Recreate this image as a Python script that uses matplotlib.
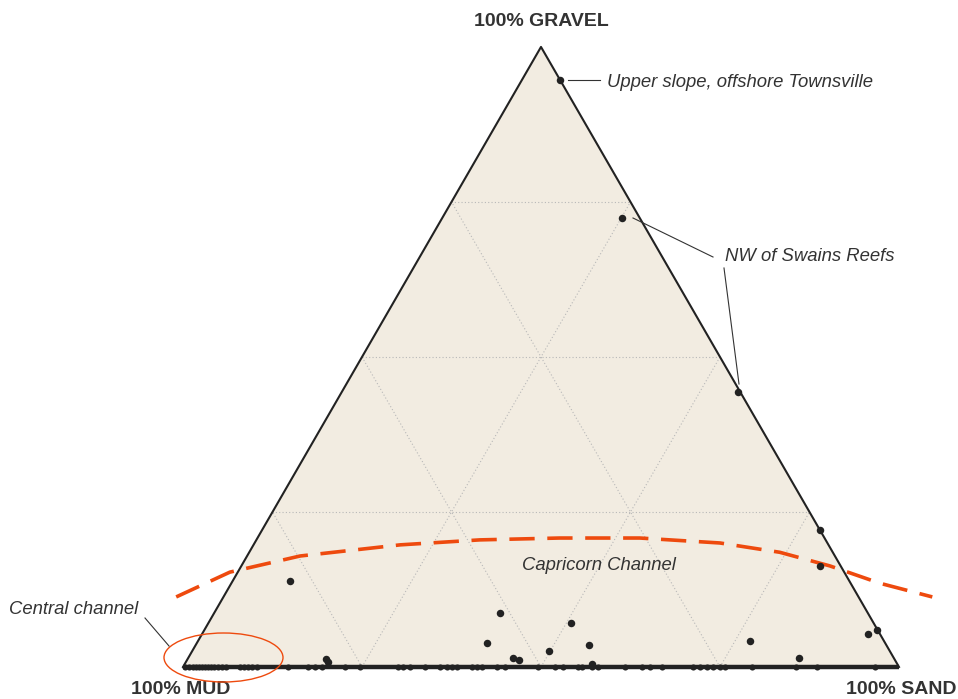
import numpy as np
import matplotlib.pyplot as plt
from matplotlib.patches import Polygon, Ellipse

# Samples: percent sand, percent gravel (mud = rest)
sand_pts = [5.3, 25.1, 55.3, 77.9, 80.8, 8.0, 39.9, 50.6, 40.5, 55.0, 49.8,
            45.4, 46.4, 19.3, 19.8, 56.9, 77.1, 93.9, 93.0, 85.3]
gravel_pts = [94.7, 72.4, 44.4, 22.1, 16.3, 13.9, 8.7, 7.1, 3.9, 3.5, 2.6,
              1.5, 1.1, 1.3, 0.8, 0.5, 4.2, 6.0, 5.3, 1.5]

# Samples with no gravel (sand %)
sand_base = [0.3, 0.8, 1.4, 1.8, 2.2, 2.7, 3.1, 3.5, 3.9, 4.3, 4.9, 5.4, 6.0,
             8.0, 8.5, 9.1, 9.6, 10.3, 14.7, 17.5, 18.4, 19.4, 22.6, 24.7,
             30.0, 30.7, 31.7, 33.8, 35.9, 36.9, 37.6, 38.3, 40.4, 41.1, 41.8,
             43.9, 45.0, 49.6, 52.0, 53.1, 55.2, 55.7, 57.1, 58.0, 61.7, 64.1,
             65.2, 66.9, 71.2, 72.2, 73.2, 74.0, 75.0, 75.7, 79.5, 85.6, 88.5,
             96.6]

# Capricorn Channel boundary (sand %, gravel %)
curve_sand = [-6.6, -1.1, 7.4, 20.5, 31.2, 42.2, 53.4, 65.0, 74.1, 82.2, 90.6, 99.0]
curve_gravel = [11.3, 15.3, 17.9, 19.7, 20.5, 20.8, 20.8, 20.0, 18.5, 16.3, 13.5, 11.3]

grid_levels = [25, 50, 75]

H = np.sqrt(3) / 2


def tern(s, g):
    s = np.asarray(s) / 100.0
    g = np.asarray(g) / 100.0
    return s + g / 2, g * H


fig = plt.figure(figsize=(9.58, 6.99), dpi=100)
ax = fig.add_axes([0, 0, 1, 1])
ax.set_xlim(-183 / 716, 775 / 716)
ax.set_ylim(-32 / 716, 667 / 716)
ax.axis('off')

# triangle
tri = Polygon([[0, 0], [1, 0], [0.5, H]], closed=True, facecolor='#F2ECE1',
              edgecolor='none', zorder=0)
ax.add_patch(tri)

# grid lines (dotted)
gc = '#b8b8b8'
for lv in grid_levels:
    x, y = tern([0, 100 - lv], [lv, lv])
    ax.plot(x, y, ls=(0, (1, 2)), color=gc, lw=0.8, zorder=1)
    x, y = tern([lv, lv], [0, 100 - lv])
    ax.plot(x, y, ls=(0, (1, 2)), color=gc, lw=0.8, zorder=1)
    x, y = tern([100 - lv, 0], [0, 100 - lv])
    ax.plot(x, y, ls=(0, (1, 2)), color=gc, lw=0.8, zorder=1)

ec = '#222222'
ax.plot([0, 0.5, 1], [0, H, 0], color=ec, lw=1.5, zorder=2)
ax.plot([0, 1], [0, 0], color=ec, lw=3.2, solid_capstyle='butt', zorder=2)

# samples
x, y = tern(sand_pts, gravel_pts)
ax.plot(x, y, 'o', color=ec, ms=5.4, mec='none', zorder=4)
x, y = tern(sand_base, np.zeros(len(sand_base)))
ax.plot(x, y, 'o', color=ec, ms=4.4, mec='none', zorder=4)

# dashed boundary
x, y = tern(curve_sand, curve_gravel)
ax.plot(x, y, color='#EE4A0E', lw=2.6, ls=(0, (7, 3.5)), zorder=3, clip_on=False)

# central channel ellipse
ell = Ellipse((40.5 / 716, 9.5 / 716), 119 / 716, 49 / 716, fill=False,
              edgecolor='#EE4A0E', lw=1.0, zorder=5)
ax.add_patch(ell)

lab = dict(fontsize=14, fontweight='bold', color='#333333',
           family=['Liberation Sans', 'DejaVu Sans'])
ax.text(0.5, (667 - 22) / 716, '100% GRAVEL', ha='center', va='center', **lab)
ax.text(-2 / 716, -23 / 716, '100% MUD', ha='center', va='center', **lab)
ax.text(1 + 2 / 716, -23 / 716, '100% SAND', ha='center', va='center', **lab)

it = dict(fontsize=13.3, style='italic', color='#333333',
          family=['Liberation Sans Narrow', 'Liberation Sans', 'DejaVu Sans'])


def px(xp, yp):
    return (xp - 183) / 716, (667 - yp) / 716


ax.text(*px(607, 83), 'Upper slope, offshore Townsville', ha='left', va='center', **it)
ax.text(*px(725, 257), 'NW of Swains Reefs', ha='left', va='center', **it)
ax.text(*px(599, 566), 'Capricorn Channel', ha='center', va='center', **it)
ax.text(*px(9, 609), 'Central channel', ha='left', va='center', **it)

lc = dict(color='#333333', lw=0.8, zorder=5)
ax.plot(*zip(px(568, 80), px(600, 80)), **lc)
ax.plot(*zip(px(633, 218), px(713, 257)), **lc)
ax.plot(*zip(px(724, 268), px(739, 384)), **lc)
ax.plot(*zip(px(145, 618), px(169, 646)), **lc)

fig.savefig('out.png', dpi=100)
